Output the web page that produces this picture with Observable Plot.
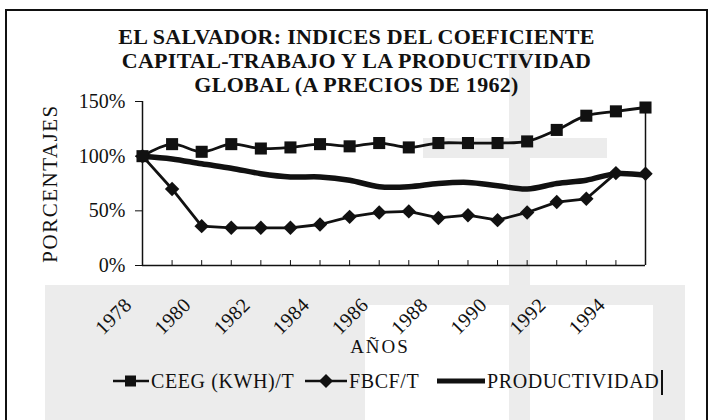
<!DOCTYPE html>
<html>
<head>
<meta charset="utf-8">
<script src="https://cdn.jsdelivr.net/npm/d3@7"></script>
<script src="https://cdn.jsdelivr.net/npm/@observablehq/plot@0.6"></script>
<style>
  html, body { margin: 0; padding: 0; background: #fff; }
  #wrap { position: relative; width: 713px; height: 420px; overflow: hidden; font-family: "Liberation Serif", "DejaVu Serif", serif; color: #111; }
  .wm { position: absolute; background: #ececec; }
  #frame { position: absolute; left: 5px; top: 9px; width: 703px; height: 440px; border: 2px solid #111; box-sizing: border-box; }
  #title { position: absolute; left: 0; top: 25px; width: 713px; text-align: center; font-weight: bold; font-size: 22px; line-height: 24px; letter-spacing: 0.3px; }
  #chart { position: absolute; left: 0; top: 92px; }
  #legend { position: absolute; left: 0; top: 369px; height: 24px; width: 713px; font-size: 20px; }
  #legend .item { position: absolute; top: 0; display: flex; align-items: center; height: 24px; white-space: nowrap; }
  #legend span { letter-spacing: 0.6px; }
  #legend svg { display: block; }
  #bar { position: absolute; left: 661px; top: 370px; width: 2px; height: 25px; background: #111; }
</style>
</head>
<body>
<div id="wrap">
  <div class="wm" style="left:509px;top:50px;width:21px;height:370px"></div>
  <div class="wm" style="left:423px;top:138px;width:184px;height:20px"></div>
  <div class="wm" style="left:45px;top:285px;width:640px;height:20px"></div>
  <div class="wm" style="left:45px;top:305px;width:320px;height:115px"></div>
  <div class="wm" style="left:653px;top:305px;width:32px;height:115px"></div>
  <div id="frame"></div>
  <div id="title"></div>
  <div id="chart"></div>
  <div id="legend"></div>
  <div id="bar"></div>
</div>
<script>
const titleLines = ["EL SALVADOR: INDICES DEL COEFICIENTE", "CAPITAL-TRABAJO Y LA PRODUCTIVIDAD", "GLOBAL (A PRECIOS DE 1962)"];
const years = [1978, 1979, 1980, 1981, 1982, 1983, 1984, 1985, 1986, 1987, 1988, 1989, 1990, 1991, 1992, 1993, 1994, 1995];
const ceeg = [100, 111, 104, 111, 107, 108, 111, 109, 112, 108, 112, 112, 112, 113.5, 124, 137, 141, 144.5];
const fbcf = [100, 70, 36, 34.5, 34.5, 34.5, 37.5, 44.5, 48.5, 49.5, 43.5, 46, 41.5, 48.5, 58, 61, 84.5, 84];
const prod = [100, 97.5, 93, 89, 84, 81, 81, 78, 72, 72, 75, 76, 73, 70, 75, 78, 84, 82.5];
const seriesNames = ["CEEG (KWH)/T", "FBCF/T", "PRODUCTIVIDAD"];
const yTicks = [0, 50, 100, 150];
const xLabelYears = [1978, 1980, 1982, 1984, 1986, 1988, 1990, 1992, 1994];
const yLabel = "PORCENTAJES";
const xLabel = "AÑOS";

document.getElementById("title").innerHTML = titleLines.map(t => `<div>${t}</div>`).join("");

const data = years.map((year, i) => ({year, ceeg: ceeg[i], fbcf: fbcf[i], prod: prod[i]}));
const last = data[data.length - 1];

const chart = Plot.plot({
  width: 713,
  height: 268,
  marginLeft: 142,
  marginRight: 68,
  marginTop: 9,
  marginBottom: 95,
  style: {fontFamily: "Liberation Serif", fontSize: "20px", background: "transparent", color: "#111", overflow: "visible"},
  x: {domain: [1978, 1995], axis: null},
  y: {domain: [0, 150], axis: null},
  marks: [
    Plot.axisY(yTicks, {tickSize: 7, tickPadding: 10, tickFormat: d => d + "%", label: null, fontSize: 20, stroke: "#111", fill: "#111"}),
    Plot.ruleY([0], {stroke: "#111", strokeWidth: 1.5}),
    Plot.ruleX([1978], {stroke: "#111", strokeWidth: 1.5}),
    Plot.ruleX(years, {x: d => d, y1: 0, y2: 4.5, stroke: "#111", strokeWidth: 1}),
    Plot.ruleX([last], {x: "year", y1: 0, y2: "ceeg", stroke: "#111", strokeWidth: 1.5}),
    Plot.text(xLabelYears, {x: d => d, y: () => 0, text: d => String(d), rotate: -45, textAnchor: "end", dx: -14, dy: 36, fontSize: 20, fill: "#111"}),
    Plot.text([yLabel], {frameAnchor: "left", textAnchor: "middle", dx: -92, rotate: -90, fontSize: 21, fill: "#111"}),
    Plot.text([xLabel], {frameAnchor: "bottom", dx: -14, dy: 87, fontSize: 19, fill: "#111"}),
    Plot.line(data, {x: "year", y: "prod", stroke: "#111", strokeWidth: 5.5, curve: "catmull-rom"}),
    Plot.line(data, {x: "year", y: "fbcf", stroke: "#111", strokeWidth: 2.8}),
    Plot.dot(data, {x: "year", y: "fbcf", symbol: "diamond2", r: 6.5, fill: "#111", stroke: "none"}),
    Plot.line(data, {x: "year", y: "ceeg", stroke: "#111", strokeWidth: 2.8, curve: "catmull-rom"}),
    Plot.dot(data, {x: "year", y: "ceeg", symbol: "square", r: 6.8, fill: "#111", stroke: "none"})
  ]
});
d3.select(chart).selectAll("text").each(function() {
  const t = this.textContent;
  if (t === yLabel) this.setAttribute("letter-spacing", "1.5");
  if (t === xLabel) this.setAttribute("letter-spacing", "2");
  if (/^19\d\d$/.test(t)) this.setAttribute("letter-spacing", "0.5");
});
document.getElementById("chart").appendChild(chart);

// legend
const legend = document.getElementById("legend");
const swatches = [
  `<svg width="36" height="24"><line x1="0" x2="36" y1="12" y2="12" stroke="#111" stroke-width="2.5"/><rect x="12" y="6.5" width="11" height="11" fill="#111"/></svg>`,
  `<svg width="42" height="24"><line x1="0" x2="42" y1="12" y2="12" stroke="#111" stroke-width="2.5"/><path d="M21 5 L28 12 L21 19 L14 12 Z" fill="#111"/></svg>`,
  `<svg width="48" height="24"><line x1="0" x2="48" y1="12" y2="12" stroke="#111" stroke-width="5"/></svg>`
];
const lefts = [113, 305, 437];
seriesNames.forEach((name, i) => {
  const div = document.createElement("div");
  div.className = "item";
  div.style.left = lefts[i] + "px";
  div.innerHTML = swatches[i] + `<span style="margin-left:2px">${name}</span>`;
  legend.appendChild(div);
});
</script>
</body>
</html>
